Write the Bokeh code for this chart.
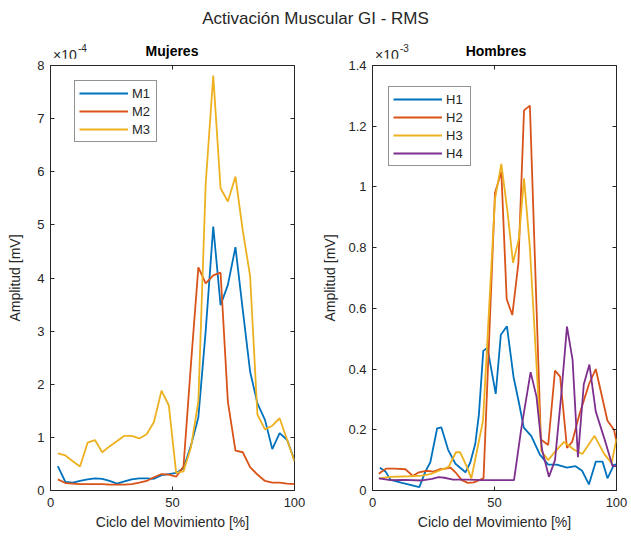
from bokeh.plotting import figure
from bokeh.models import (FixedTicker, LinearAxis, Div, Range1d, CustomLabelingPolicy)
from bokeh.layouts import column, row
from bokeh.embed import file_html
from bokeh.resources import INLINE

# ---------------- data ----------------
suptitle = "Activación Muscular GI - RMS"
titles = ["Mujeres", "Hombres"]
exponents = ["-4", "-3"]
x_label = "Ciclo del Movimiento [%]"
y_label = "Amplitud [mV]"

# Mujeres (values in units of 1e-4 mV)
x_m = [3.0, 6.1, 9.1, 12.1, 15.2, 18.2, 21.2, 24.2, 27.3, 30.3, 33.3, 36.4, 39.4,
       42.4, 45.5, 48.5, 51.5, 54.5, 57.6, 60.6, 63.6, 66.7, 69.7, 72.7, 75.8,
       78.8, 81.8, 84.8, 87.9, 90.9, 93.9, 97.0, 100.0]
M1 = [0.46, 0.16, 0.15, 0.18, 0.21, 0.23, 0.22, 0.18, 0.13, 0.17, 0.21, 0.23, 0.23,
      0.22, 0.29, 0.31, 0.33, 0.42, 0.85, 1.38, 3.0, 4.97, 3.49, 3.87, 4.58,
      3.4, 2.24, 1.64, 1.33, 0.78, 1.08, 0.95, 0.57]
M2 = [0.21, 0.14, 0.13, 0.12, 0.12, 0.12, 0.12, 0.11, 0.11, 0.11, 0.12, 0.15, 0.18,
      0.25, 0.31, 0.30, 0.26, 0.45, 2.4, 4.2, 3.9, 4.05, 4.1, 1.67, 0.75,
      0.72, 0.44, 0.30, 0.18, 0.15, 0.15, 0.13, 0.12]
M3 = [0.70, 0.66, 0.55, 0.45, 0.90, 0.95, 0.72, 0.83, 0.93, 1.03, 1.03, 0.98, 1.06,
      1.29, 1.88, 1.60, 0.33, 0.36, 0.82, 1.68, 5.77, 7.81, 5.69, 5.44, 5.91,
      4.89, 4.04, 1.43, 1.15, 1.22, 1.36, 0.95, 0.55]

# Hombres (values in units of 1e-3 mV)
x_h1 = [3.0, 5.3, 7.4, 12.1, 19.2, 21.7, 23.7, 26.5, 28.2, 31.0, 34.0, 38.1, 40.1,
        42.1, 43.6, 45.4, 47.1, 50.5, 52.6, 55.1, 57.8, 60.0, 62.0, 65.1, 68.6,
        72.0, 75.5, 79.7, 83.2, 85.9, 88.7, 91.5, 94.3, 96.3, 99.0, 100.0]
H1 = [0.075, 0.063, 0.035, 0.025, 0.011, 0.063, 0.093, 0.205, 0.208, 0.134, 0.088,
      0.06, 0.093, 0.153, 0.25, 0.46, 0.47, 0.318, 0.513, 0.541, 0.374, 0.29, 0.207,
      0.179, 0.118, 0.085, 0.085, 0.075, 0.08, 0.065, 0.02, 0.095, 0.095, 0.04,
      0.085, 0.085]
x_h2 = [2.6, 5.5, 9.0, 13.5, 16.5, 19.0, 22.0, 25.0, 27.5, 30.0, 32.0, 34.0, 36.5,
        39.0, 41.5, 45.5, 50.2, 52.8, 55.0, 57.3, 59.8, 62.1, 64.5, 69.0, 72.0,
        74.8, 76.9, 79.7, 81.8, 84.8, 88.7, 91.5, 96.3, 99.0, 100.0]
H2 = [0.055, 0.072, 0.072, 0.07, 0.048, 0.06, 0.065, 0.062, 0.07, 0.072, 0.075,
      0.06, 0.035, 0.025, 0.027, 0.04, 0.98, 1.05, 0.63, 0.578, 0.75, 1.252, 1.268,
      0.168, 0.15, 0.395, 0.375, 0.14, 0.16, 0.25, 0.35, 0.40, 0.23, 0.2, 0.16]
x_h3 = [2.6, 7.4, 14.9, 20.3, 24.0, 28.0, 31.2, 34.2, 35.9, 38.7, 40.5, 42.8, 45.3,
        50.2, 52.8, 55.3, 57.6, 60.0, 62.1, 64.5, 69.2, 72.0, 75.0, 78.5, 82.5,
        86.0, 91.0, 95.0, 98.0, 100.0]
H3 = [0.04, 0.045, 0.047, 0.049, 0.055, 0.068, 0.078, 0.126, 0.126, 0.078, 0.04,
      0.13, 0.23, 0.96, 1.076, 0.92, 0.75, 0.83, 1.028, 0.80, 0.13, 0.10, 0.13,
      0.16, 0.135, 0.12, 0.18, 0.12, 0.09, 0.17]
x_h4 = [2.6, 7.4, 13.0, 20.3, 24.4, 27.1, 29.5, 33.0, 39.4, 45.0, 50.0, 54.0, 58.0,
        60.9, 64.8, 67.2, 69.5, 72.3, 74.8, 77.3, 79.7, 82.0, 84.2, 86.6, 88.9,
        91.5, 95.6, 98.4, 100.0]
H4 = [0.04, 0.034, 0.035, 0.033, 0.038, 0.044, 0.042, 0.036, 0.036, 0.034, 0.034,
      0.034, 0.034, 0.20, 0.39, 0.31, 0.134, 0.045, 0.10, 0.31, 0.54, 0.43, 0.11,
      0.35, 0.415, 0.26, 0.156, 0.08, 0.08]

x_ticks = [0, 50, 100]
m_ticks = [0, 1, 2, 3, 4, 5, 6, 7, 8]
m_tick_labels = ["0", "1", "2", "3", "4", "5", "6", "7", "8"]
h_ticks = [0, 0.2, 0.4, 0.6, 0.8, 1.0, 1.2, 1.4]
h_tick_labels = ["0", "0.2", "0.4", "0.6", "0.8", "1", "1.2", "1.4"]

COLORS = ["#0072BD", "#D95319", "#EDB120", "#7E2F8E"]
FONT = "Liberation Sans"
INK = "#262626"

HEAD_H = 58


def hidden_axis(ticks):
    return LinearAxis(ticker=FixedTicker(ticks=ticks),
                      major_label_policy=CustomLabelingPolicy(code="return new Set()"),
                      major_label_text_font_size="1px",
                      major_label_standoff=0, major_tick_in=4, major_tick_out=0,
                      axis_line_color=None, major_tick_line_color=INK,
                      minor_tick_line_color=None)


def make_fig(width, left, right, ymax, yticks, ylabels, y_standoff):
    p = figure(width=width, height=540 - HEAD_H, output_backend="svg",
               toolbar_location=None,
               x_range=Range1d(0, 100), y_range=Range1d(0, ymax),
               min_border_left=left, min_border_right=right,
               min_border_top=65 - HEAD_H, min_border_bottom=50)
    p.xgrid.visible = False
    p.ygrid.visible = False
    p.outline_line_color = INK
    p.outline_line_width = 1
    p.background_fill_color = "white"
    p.border_fill_color = "white"

    for ax in (p.xaxis[0], p.yaxis[0]):
        ax.axis_line_color = INK
        ax.major_tick_line_color = INK
        ax.major_tick_in = 4
        ax.major_tick_out = 0
        ax.minor_tick_line_color = None
        ax.major_label_text_font = FONT
        ax.major_label_text_font_size = "13px"
        ax.major_label_text_color = INK
        ax.axis_label_text_font = FONT
        ax.axis_label_text_font_size = "14px"
        ax.axis_label_text_font_style = "normal"
        ax.axis_label_text_color = INK
    p.xaxis.ticker = FixedTicker(ticks=x_ticks)
    p.xaxis.axis_label = x_label
    p.xaxis.major_label_standoff = 7
    p.xaxis.axis_label_standoff = 4
    p.yaxis.ticker = FixedTicker(ticks=yticks)
    p.yaxis.major_label_overrides = {t: l for t, l in zip(yticks, ylabels)}
    p.yaxis.axis_label = y_label
    p.yaxis.major_label_standoff = 6
    p.yaxis.axis_label_standoff = y_standoff

    p.add_layout(hidden_axis(x_ticks), "above")
    p.add_layout(hidden_axis(yticks), "right")
    return p


def style_legend(p, loc):
    lg = p.legend[0]
    lg.location = loc
    lg.border_line_color = INK
    lg.border_line_width = 1.3
    lg.background_fill_color = "white"
    lg.background_fill_alpha = 1
    lg.label_text_font = FONT
    lg.label_text_font_size = "13px"
    lg.label_text_color = INK
    lg.glyph_width = 49
    lg.glyph_height = 16
    lg.label_height = 16
    lg.spacing = 2
    lg.padding = 4
    lg.margin = 0
    lg.label_standoff = 4


p1 = make_fig(316, 50, 22, 8, m_ticks, m_tick_labels, 11)
for name, ys, c in (("M1", M1, COLORS[0]), ("M2", M2, COLORS[1]), ("M3", M3, COLORS[2])):
    p1.line(x_m, ys, line_color=c, line_width=1.8, legend_label=name)
style_legend(p1, (24, 348))

p2 = make_fig(315, 56, 15, 1.4, h_ticks, h_tick_labels, 7)
for name, xs, ys, c in (("H1", x_h1, H1, COLORS[0]), ("H2", x_h2, H2, COLORS[1]),
                        ("H3", x_h3, H3, COLORS[2]), ("H4", x_h4, H4, COLORS[3])):
    p2.line(xs, ys, line_color=c, line_width=1.8, legend_label=name)
style_legend(p2, (16, 324))

base = f"position:absolute;font-family:'{FONT}';color:{INK};white-space:nowrap;"


def exp_html(left, e):
    return (f'<div style="{base}left:{left}px;top:48px;font-size:14px;line-height:15px;">×10</div>'
            f'<div style="{base}left:{left + 25}px;top:43px;font-size:10px;line-height:12px;">{e}</div>')


head_html = (
    f'<div style="position:relative;width:631px;height:{HEAD_H}px;">'
    f'<div style="{base}left:0;top:8px;width:631px;text-align:center;font-size:17px;'
    f'line-height:22px;">{suptitle}</div>'
    f'<div style="{base}left:122px;top:43px;width:100px;text-align:center;'
    f'font-size:14px;font-weight:bold;color:#000;line-height:16px;">{titles[0]}</div>'
    f'<div style="{base}left:446px;top:43px;width:100px;text-align:center;'
    f'font-size:14px;font-weight:bold;color:#000;line-height:16px;">{titles[1]}</div>'
    + exp_html(53, exponents[0]) + exp_html(375, exponents[1]) +
    '</div>'
)
head = Div(text=head_html, width=631, height=HEAD_H, margin=0)

layout = column(head, row(p1, p2))
open("out.html", "w").write(file_html(layout, INLINE))
